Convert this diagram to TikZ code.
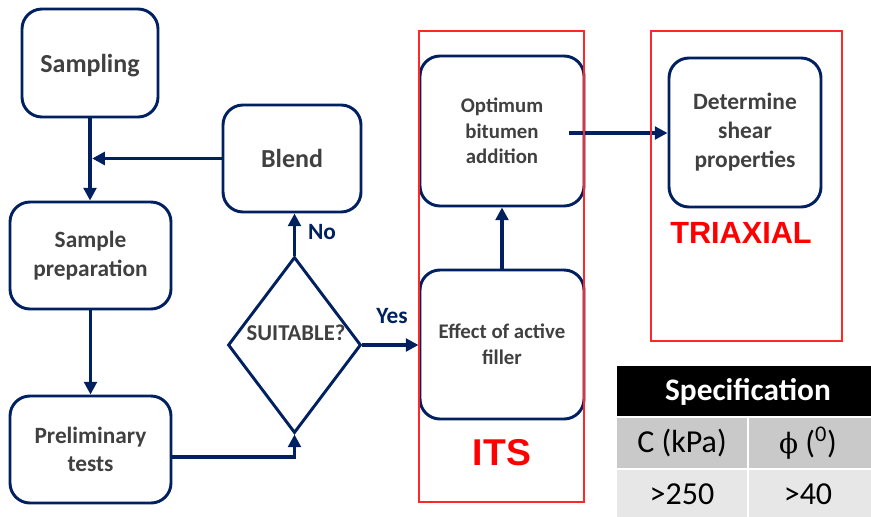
\documentclass[tikz,border=0pt]{standalone}
\usepackage{fontspec}
\setmainfont{Carlito}
\newfontfamily\arialf{Liberation Sans}
\newfontfamily\phifont{DejaVu Serif}
\usetikzlibrary{arrows.meta,shapes.geometric}
\definecolor{navy}{RGB}{0,32,96}
\definecolor{txtgray}{RGB}{64,64,64}
\definecolor{redline}{RGB}{255,40,40}
\definecolor{rowmid}{RGB}{201,201,201}
\definecolor{rowlight}{RGB}{231,231,231}
\tikzset{
  box/.style={draw=navy, line width=2.2pt, rounded corners=15pt, inner sep=0pt, align=center, text=txtgray},
  arr/.style={draw=navy, line width=2.8pt, -{Triangle[length=9.5pt,width=9.5pt]}},
  lbl/.style={text=navy, font=\bfseries\fontsize{17.5}{20}\selectfont, inner sep=0pt},
  redbox/.style={draw=redline, line width=1pt},
  redlbl/.style={text=red, inner sep=0pt},
  cell/.style={inner sep=0pt, font=\fontsize{24}{28}\selectfont, text=black}
}
\begin{document}
\begin{tikzpicture}[x=0.75pt,y=-0.75pt]
\useasboundingbox (0,0) rectangle (871,517);
% boxes
\node[box, minimum width=136*0.75pt, minimum height=108*0.75pt, text depth=0pt, font=\bfseries\fontsize{19.5}{24}\selectfont] (samp) at (90,63) {Sampling};
\node[box, minimum width=138*0.75pt, minimum height=107*0.75pt, font=\bfseries\fontsize{19.5}{24}\selectfont] (blend) at (292,158.5) {Blend};
\node[box, minimum width=161*0.75pt, minimum height=107*0.75pt, font=\bfseries\fontsize{17.5}{21.5}\selectfont] (prep) at (90.5,255.5) {Sample\\preparation};
\node[box, minimum width=161*0.75pt, minimum height=107*0.75pt, font=\bfseries\fontsize{17.5}{20.5}\selectfont] (prel) at (90.5,449.5) {Preliminary\\tests};
\node[draw=navy, line width=2.2pt, diamond, minimum width=133*0.75pt, minimum height=176*0.75pt, inner sep=0pt] (dec) at (294.5,345) {};
\node[text=txtgray, font=\bfseries\fontsize{17}{20}\selectfont, inner sep=0pt] (dectxt) at (296,333) {SUITABLE?};
\node[box, minimum width=164*0.75pt, minimum height=149*0.75pt, font=\bfseries\fontsize{15.6}{19.5}\selectfont] (eff) at (502,344.5) {Effect of active\\filler};
\node[box, minimum width=164*0.75pt, minimum height=150*0.75pt, font=\bfseries\fontsize{15.6}{19.2}\selectfont] (opt) at (502,131) {Optimum\\bitumen\\addition};
\node[box, minimum width=152*0.75pt, minimum height=149*0.75pt, font=\bfseries\fontsize{17.6}{21.8}\selectfont] (det) at (745,132.5) {Determine\\shear\\properties};
% connectors
\draw[arr] (samp.south) -- (samp.south |- prep.north);
\draw[arr, shorten >=1.6pt] (blend.west) -- (blend.west -| samp.south);
\draw[arr] (prep.south) -- (prel.north);
\draw[arr] (prel.east) ++(0,7.5) -| (dec.south);
\draw[arr] (dec.north) -- (dec.north |- blend.south);
\draw[arr] (dec.east) -- (dec.east -| eff.west);
\draw[arr] (eff.north) -- (opt.south);
\coordinate (ostart) at (569,133);
\draw[arr] (ostart) -- (ostart -| det.west);
% labels
\node[lbl] (no) at (322,232) {No};
\node[lbl] (yes) at (392,316) {Yes};
% red frames
\draw[redbox] (419,31) rectangle (584,502);
\draw[redbox] (651,31) rectangle (842,341);
\node[redlbl, font=\arialf\bfseries\fontsize{28}{32}\selectfont] (its) at (502,453) {ITS};
\node[redlbl, font=\arialf\bfseries\fontsize{23}{27}\selectfont] (tri) at (741,233) {TRIAXIAL};
% table
\fill[black] (617,366) rectangle (871,416);
\fill[rowmid] (617,418) rectangle (747,468);
\fill[rowmid] (749,418) rectangle (871,468);
\fill[rowlight] (617,470) rectangle (747,517);
\fill[rowlight] (749,470) rectangle (871,517);
\node[cell, text=white, font=\bfseries\fontsize{23.5}{28}\selectfont] (hdr) at (748,392) {Specification};
\node[cell] (c1) at (682,443) {C (kPa)};
\node[cell] (c2) at (808,443) {{\phifont\fontsize{21}{24}\selectfont ϕ} (\textsuperscript{0})};
\node[cell] (v1) at (682,494) {>250};
\node[cell] (v2) at (808,494) {>40};
\end{tikzpicture}
\end{document}
